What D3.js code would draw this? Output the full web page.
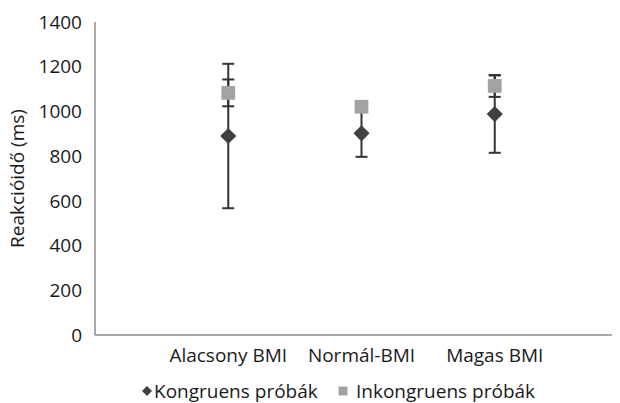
<!DOCTYPE html>
<html>
<head>
<meta charset="utf-8">
<script src="https://cdn.jsdelivr.net/npm/d3@7"></script>
<style>
  body { margin: 0; background: #fff; }
  text { font-family: "Open Sans", sans-serif; fill: #1a1a1a; }
</style>
</head>
<body>
<div class="chart"></div>
<script>
var categories = ["Alacsony BMI", "Normál-BMI", "Magas BMI"];
var kongruens = [890, 902, 988];
var kongruensErr = [323, 105, 173];
var inkongruens = [1083, 1021, 1114];
var inkongruensErr = [60, 20, 49];
var yTicks = [0, 200, 400, 600, 800, 1000, 1200, 1400];

var width = 620, height = 403;

var svg = d3.select(".chart").append("svg")
    .attr("width", width)
    .attr("height", height);

// scales
var x = d3.scaleLinear().domain([0, 3.88]).range([95, 612]);
var y = d3.scaleLinear().domain([0, 1400]).range([335, 22]);

// axes lines
svg.append("line")
    .attr("x1", 95).attr("x2", 95)
    .attr("y1", y(1400)).attr("y2", y(0))
    .attr("stroke", "#8c8c8c").attr("stroke-width", 1.5);
svg.append("line")
    .attr("x1", 95).attr("x2", x(3.88))
    .attr("y1", y(0)).attr("y2", y(0))
    .attr("stroke", "#8c8c8c").attr("stroke-width", 1.5);

// y tick labels
svg.selectAll(".ytick")
    .data(yTicks)
    .enter().append("text")
    .attr("x", 82)
    .attr("y", function (d) { return y(d); })
    .attr("dy", "0.35em")
    .attr("text-anchor", "end")
    .style("font-size", "19px")
    .text(function (d) { return d; });

// y title
svg.append("text")
    .attr("transform", "translate(24," + y(700) + ") rotate(-90)")
    .attr("text-anchor", "middle")
    .style("font-size", "19px")
    .text("Reakcióidő (ms)");

// category labels
svg.selectAll(".xlab")
    .data(categories)
    .enter().append("text")
    .attr("x", function (d, i) { return x(i + 1); })
    .attr("y", 362)
    .attr("text-anchor", "middle")
    .style("font-size", "19px")
    .text(function (d) { return d; });

function errorBars(vals, errs, cls) {
    var g = svg.selectAll("." + cls)
        .data(vals)
        .enter().append("g")
        .attr("class", cls);
    g.append("line")
        .attr("x1", function (d, i) { return x(i + 1); })
        .attr("x2", function (d, i) { return x(i + 1); })
        .attr("y1", function (d, i) { return y(d - errs[i]); })
        .attr("y2", function (d, i) { return y(d + errs[i]); })
        .attr("stroke", "#333").attr("stroke-width", 2);
    [-1, 1].forEach(function (s) {
        g.append("line")
            .attr("x1", function (d, i) { return x(i + 1) - 6; })
            .attr("x2", function (d, i) { return x(i + 1) + 6; })
            .attr("y1", function (d, i) { return y(d + s * errs[i]); })
            .attr("y2", function (d, i) { return y(d + s * errs[i]); })
            .attr("stroke", "#333").attr("stroke-width", 2);
    });
}

errorBars(kongruens, kongruensErr, "errK");
errorBars(inkongruens, inkongruensErr, "errI");

// diamond = square turned 45 degrees
var diamond = d3.symbol().type(d3.symbolSquare).size(130);
var square = d3.symbol().type(d3.symbolSquare).size(190);

svg.selectAll(".sq")
    .data(inkongruens)
    .enter().append("path")
    .attr("d", square)
    .attr("transform", function (d, i) { return "translate(" + x(i + 1) + "," + y(d) + ")"; })
    .attr("fill", "#a3a3a3");

svg.selectAll(".dm")
    .data(kongruens)
    .enter().append("path")
    .attr("d", diamond)
    .attr("transform", function (d, i) { return "translate(" + x(i + 1) + "," + y(d) + ") rotate(45)"; })
    .attr("fill", "#404040");

// legend
var leg = svg.append("g");
leg.append("path")
    .attr("d", d3.symbol().type(d3.symbolSquare).size(50))
    .attr("transform", "translate(147,391) rotate(45)")
    .attr("fill", "#404040");
leg.append("text")
    .attr("x", 154).attr("y", 391).attr("dy", "0.35em")
    .style("font-size", "19px")
    .text("Kongruens próbák");
leg.append("path")
    .attr("d", d3.symbol().type(d3.symbolSquare).size(80))
    .attr("transform", "translate(343,391)")
    .attr("fill", "#a3a3a3");
leg.append("text")
    .attr("x", 356).attr("y", 391).attr("dy", "0.35em")
    .style("font-size", "19px")
    .text("Inkongruens próbák");
</script>
</body>
</html>
